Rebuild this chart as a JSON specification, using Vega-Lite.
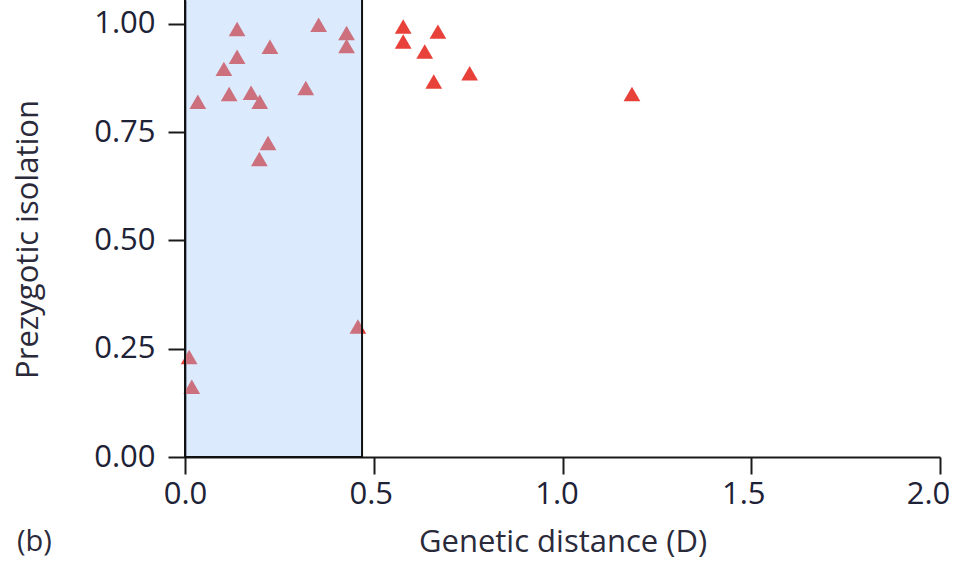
{
  "$schema": "https://vega.github.io/schema/vega-lite/v6.json",
  "width": 755,
  "height": 457,
  "autosize": {"type": "none"},
  "padding": {"left": 185, "top": 0, "right": 13, "bottom": 104},
  "background": "white",
  "title": {
    "text": "(b)",
    "orient": "bottom",
    "anchor": "start",
    "frame": "group",
    "font": "Open Sans",
    "fontSize": 29,
    "fontWeight": "normal",
    "color": "#2a2a3a",
    "offset": 0,
    "dx": -168,
    "dy": -6,
    "baseline": "alphabetic"
  },
  "config": {
    "view": {"stroke": null},
    "axis": {
      "grid": false,
      "domainColor": "#1a1a1a",
      "domainWidth": 2,
      "tickColor": "#1a1a1a",
      "tickWidth": 2,
      "tickSize": 17,
      "labelFont": "Open Sans",
      "labelFontSize": 31,
      "labelColor": "#1e2236",
      "labelFlush": false,
      "labelOverlap": false,
      "titleFont": "Open Sans",
      "titleFontSize": 31,
      "titleFontWeight": "normal",
      "titleColor": "#2a2a3a"
    }
  },
  "datasets": {
    "pts": [
      {"D": 0.138, "iso": 0.988},
      {"D": 0.354, "iso": 0.998},
      {"D": 0.428, "iso": 0.979},
      {"D": 0.428, "iso": 0.949},
      {"D": 0.225, "iso": 0.947},
      {"D": 0.138, "iso": 0.924},
      {"D": 0.103, "iso": 0.896},
      {"D": 0.034, "iso": 0.82},
      {"D": 0.117, "iso": 0.838},
      {"D": 0.175, "iso": 0.841},
      {"D": 0.198, "iso": 0.82},
      {"D": 0.32, "iso": 0.852},
      {"D": 0.22, "iso": 0.725},
      {"D": 0.197, "iso": 0.688},
      {"D": 0.011, "iso": 0.231},
      {"D": 0.018, "iso": 0.162},
      {"D": 0.458, "iso": 0.301},
      {"D": 0.578, "iso": 0.994},
      {"D": 0.578, "iso": 0.959},
      {"D": 0.67, "iso": 0.982},
      {"D": 0.635, "iso": 0.936},
      {"D": 0.659, "iso": 0.867},
      {"D": 0.754, "iso": 0.886},
      {"D": 1.184, "iso": 0.838}
    ],
    "box": [
      {"D0": 0, "D1": 0.469, "i0": 0, "i1": 1.08}
    ]
  },
  "layer": [
    {
      "data": {"name": "pts"},
      "mark": {"type": "point", "shape": "triangle-up", "filled": true, "size": 280, "color": "#e8413a", "opacity": 1, "strokeWidth": 0},
      "encoding": {
        "x": {
          "field": "D",
          "type": "quantitative",
          "scale": {"domain": [0, 2], "nice": false, "zero": false},
          "axis": {
            "values": [0, 0.5, 1, 1.5, 2],
            "format": ".1f",
            "labelPadding": 5,
            "labelOffset": {
              "condition": [
                {"test": "datum.value == 2", "value": -12},
                {"test": "datum.value == 1.5", "value": -8},
                {"test": "datum.value == 1", "value": -6},
                {"test": "datum.value == 0.5", "value": -3}
              ],
              "value": 0
            },
            "title": "Genetic distance (D)",
            "titleY": 85,
            "titleBaseline": "middle"
          }
        },
        "y": {
          "field": "iso",
          "type": "quantitative",
          "scale": {"domain": [0, 1.055], "nice": false, "zero": false},
          "axis": {
            "values": [0, 0.25, 0.5, 0.75, 1],
            "format": ".2f",
            "labelPadding": 13,
            "labelBaseline": "middle",
            "title": "Prezygotic isolation",
            "titleX": -157,
            "titleY": 239,
            "titleBaseline": "middle",
            "titleAngle": -90
          }
        }
      }
    },
    {
      "data": {"name": "box"},
      "mark": {"type": "rect", "fill": "#9bc5f7", "fillOpacity": 0.36, "stroke": "#111111", "strokeWidth": 2, "clip": false},
      "encoding": {
        "x": {"field": "D0", "type": "quantitative"},
        "x2": {"field": "D1"},
        "y": {"field": "i0", "type": "quantitative"},
        "y2": {"field": "i1"}
      }
    }
  ]
}
